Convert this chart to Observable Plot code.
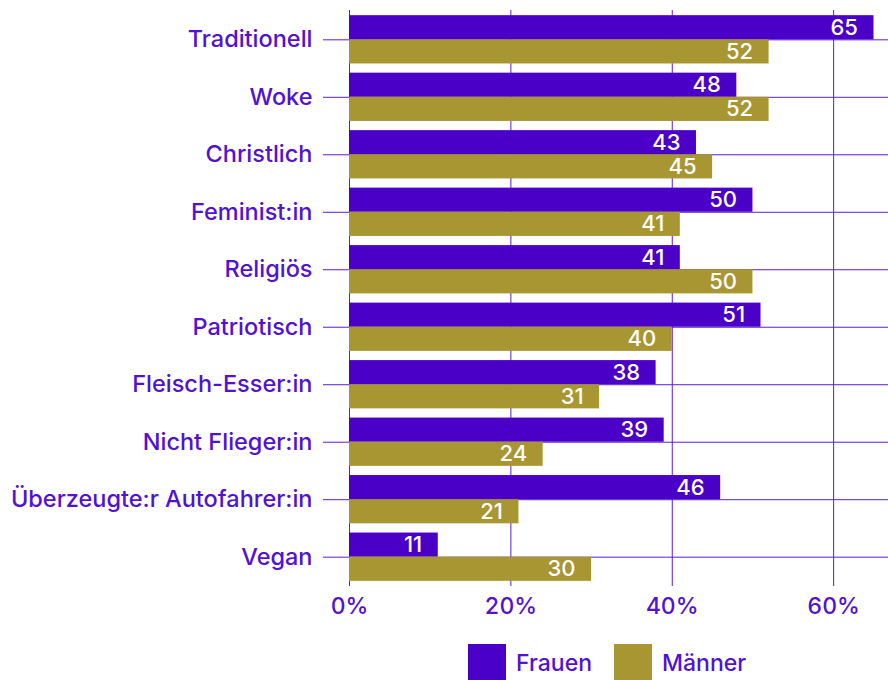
<!DOCTYPE html>
<html>
<head>
<meta charset="utf-8">
<script src="https://cdn.jsdelivr.net/npm/d3@7"></script>
<script src="https://cdn.jsdelivr.net/npm/@observablehq/plot@0.6"></script>
<style>
  body { margin: 0; background: #fff; font-family: Inter, "Noto Sans", sans-serif; }
  #chart svg { overflow: visible; }
  .legend { display: flex; align-items: center; margin-top: 14px; margin-left: 468px; font-size: 23px; color: #5212d2; font-weight: 500; }
  .legend .item { display: flex; align-items: center; margin-right: 22px; }
  .legend .sw { width: 38px; height: 38px; margin-right: 10px; }
</style>
</head>
<body>
<div id="chart"></div>
<script>
const categories = ["Traditionell", "Woke", "Christlich", "Feminist:in", "Religiös", "Patriotisch", "Fleisch-Esser:in", "Nicht Flieger:in", "Überzeugte:r Autofahrer:in", "Vegan"];
const groups = ["Frauen", "Männer"];
const frauen = [65, 48, 43, 50, 41, 51, 38, 39, 46, 11];
const maenner = [52, 52, 45, 41, 50, 40, 31, 24, 21, 30];
const xTicks = [0, 20, 40, 60];
const colors = ["#4b00c8", "#a89632"];

const textColor = "#5212d2";
const lineColor = "#5a1ed6";

const rows = [];
categories.forEach((c, i) => {
  rows.push({category: c, group: groups[0], value: frauen[i]});
  rows.push({category: c, group: groups[1], value: maenner[i]});
});

function build(bw) {
  const half = bw / 2;
  return Plot.plot({
    width: 888,
    height: 630,
    marginTop: 10,
    marginBottom: 44,
    marginLeft: 349,
    marginRight: 0,
    style: {fontFamily: "Inter, 'Noto Sans', sans-serif", fontSize: "23px", color: textColor, fontWeight: 500},
    x: {domain: [0, 66.8], ticks: xTicks, tickFormat: d => d + "%", label: null},
    y: {domain: categories, paddingInner: 0.16, paddingOuter: 0.09, round: false, label: null},
    color: {domain: groups, range: colors},
    marks: [
      Plot.gridX(xTicks, {stroke: lineColor, strokeOpacity: 1}),
      Plot.gridY(categories, {stroke: lineColor, strokeOpacity: 1}),
      Plot.axisX({ticks: xTicks, tickSize: 0, tickPadding: 11, tickFormat: d => d + "%", fill: textColor, fontSize: 23, label: null}),
      Plot.axisY({tickSize: 26, tickPadding: 11, stroke: lineColor, fill: textColor, fontSize: 23.5, label: null}),
      Plot.barX(rows.filter(d => d.group === groups[0]), {x: "value", y: "category", fill: "group", insetBottom: half}),
      Plot.barX(rows.filter(d => d.group === groups[1]), {x: "value", y: "category", fill: "group", insetTop: half}),
      Plot.text(rows.filter(d => d.group === groups[0]), {x: "value", y: "category", text: d => String(d.value), dy: -bw / 4, dx: -16, textAnchor: "end", fill: "#ffffff", fontSize: 22, fontWeight: 500}),
      Plot.text(rows.filter(d => d.group === groups[1]), {x: "value", y: "category", text: d => String(d.value), dy: bw / 4, dx: -16, textAnchor: "end", fill: "#ffffff", fontSize: 22, fontWeight: 500})
    ]
  });
}

const probe = build(40);
const bw = probe.scale("y").bandwidth;
const chart = build(bw);
document.getElementById("chart").append(chart);

const legend = document.createElement("div");
legend.className = "legend";
groups.forEach((g, i) => {
  const item = document.createElement("div");
  item.className = "item";
  const sw = document.createElement("div");
  sw.className = "sw";
  sw.style.background = colors[i];
  const t = document.createElement("span");
  t.textContent = g;
  item.append(sw, t);
  legend.append(item);
});
document.body.append(legend);
</script>
</body>
</html>
